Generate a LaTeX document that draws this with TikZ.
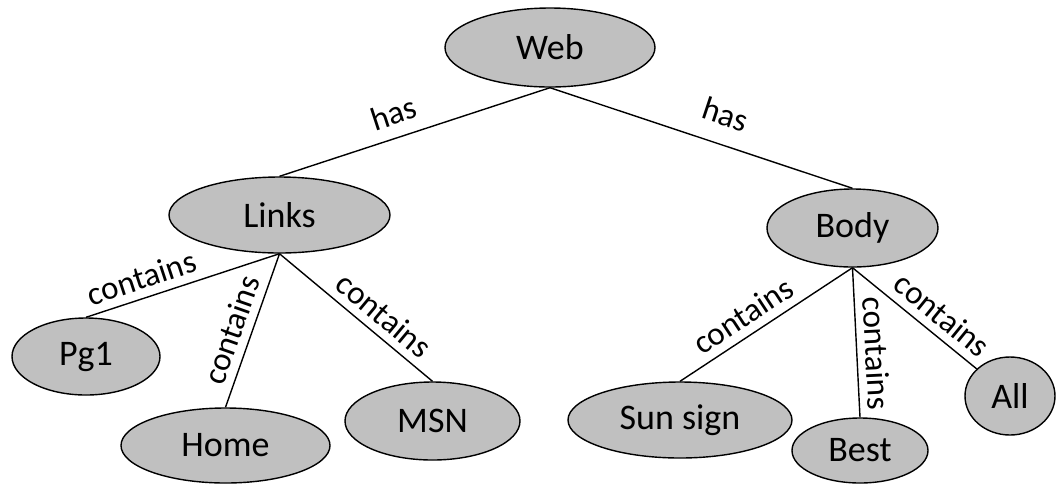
\documentclass[tikz,border=0pt]{standalone}
\usepackage{fontspec}
\setmainfont{Carlito}
\usetikzlibrary{shapes.geometric}
\definecolor{nodefill}{RGB}{192,192,192}
\tikzset{
  concept/.style={ellipse, draw=black, line width=0.7pt, fill=nodefill,
    inner sep=0pt, font=\fontsize{18pt}{20pt}\selectfont},
  size/.style 2 args={minimum width=#1*0.5pt, minimum height=#2*0.5pt},
  link/.style={draw=black, line width=0.7pt},
  rel/.style={sloped, above=3pt, inner sep=1pt, font=\fontsize{16.5pt}{18pt}\selectfont},
}
\begin{document}
\begin{tikzpicture}[x=0.5pt, y=-0.5pt]
  \useasboundingbox (0,0) rectangle (1056,484);

  % concept nodes
  \node[concept, size={210}{79}] (web) at (550,47.5) {Web};
  \node[concept, size={221}{76}] (links) at (279.5,215) {Links};
  \node[concept, size={171}{78}] (body) at (852.5,228) {Body};
  \node[concept, size={148}{77}] (pg1) at (86,356.5) {Pg1};
  \node[concept, size={209}{75}] (home) at (225.5,445.5) {Home};
  \node[concept, size={175}{78}] (msn) at (432.5,421) {MSN};
  \node[concept, size={224}{76}] (sun) at (680,420) {Sun sign};
  \node[concept, size={136}{65}] (best) at (860,450.5) {Best};
  \node[concept, size={90}{78}] (all) at (1010,396) {All};

  % relations
  \draw[link] (web.south) -- node[rel, pos=0.55, above=2pt] {has} (links.north);
  \draw[link] (web.south) -- node[rel, pos=0.55, above=5pt] {has} (body.north);

  \draw[link] (links.south) -- node[rel, pos=0.68] {contains} (pg1.north);
  \draw[link] (links.south) -- node[rel, pos=0.54] {contains} (home.north);
  \draw[link] (links.south) -- node[rel, pos=0.60] {contains} (msn.north);

  \draw[link] (body.south) -- node[rel, pos=0.57] {contains} (sun.north);
  \draw[link] (body.south) -- node[rel, pos=0.58] {contains} (best.north);
  \draw[link] (body.south) -- node[rel, pos=0.62] {contains} (all);
\end{tikzpicture}
\end{document}
